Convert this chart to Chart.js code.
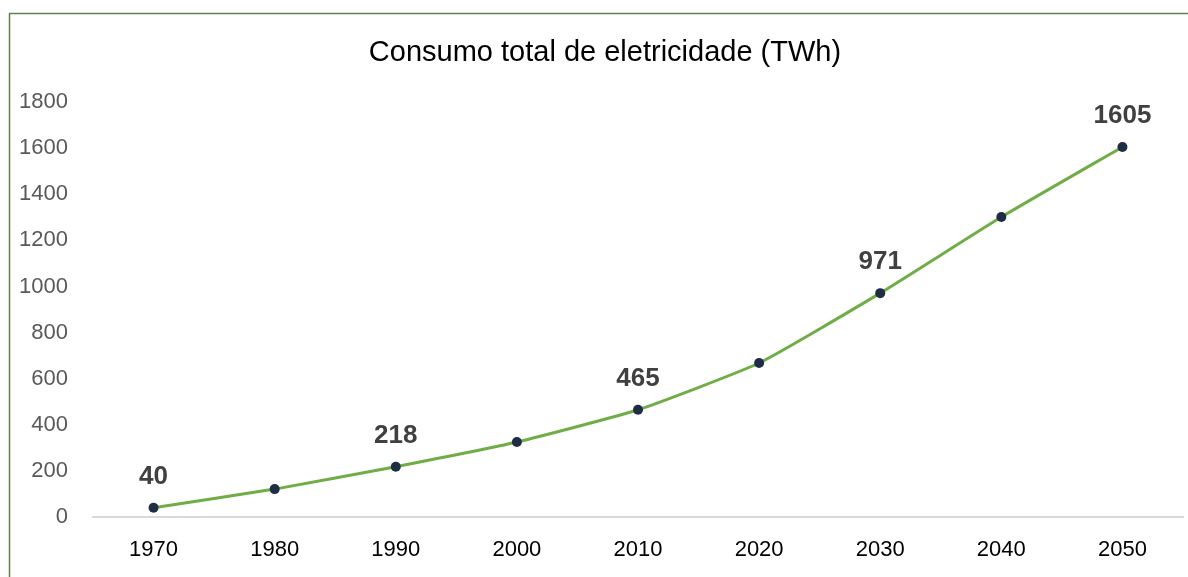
<!DOCTYPE html>
<html>
<head>
<meta charset="utf-8">
<script src="https://cdn.jsdelivr.net/npm/chart.js@4.4.1/dist/chart.umd.min.js"></script>
<style>
  html, body { margin: 0; padding: 0; background: #ffffff; }
  #wrap { position: relative; width: 1188px; height: 577px; }
  canvas { display: block; }
</style>
</head>
<body>
<div id="wrap"><canvas id="c" width="1188" height="577"></canvas></div>
<script>
const chartTitle = "Consumo total de eletricidade (TWh)";
const years = ["1970", "1980", "1990", "2000", "2010", "2020", "2030", "2040", "2050"];
const consumption = [40, 121, 218, 325, 465, 668, 971, 1301, 1605];
const labelledYears = ["1970", "1990", "2010", "2030", "2050"];
const yTickMin = 0;
const yTickMax = 1800;
const yTickStep = 200;

const FONT = '"Liberation Sans", Arial, sans-serif';

const frameTitleLabels = {
  id: 'frameTitleLabels',
  beforeDraw(chart) {
    const ctx = chart.ctx;
    ctx.save();
    ctx.strokeStyle = '#5f8350';
    ctx.lineWidth = 1.5;
    ctx.beginPath();
    ctx.moveTo(9.5, 577);
    ctx.lineTo(9.5, 13.5);
    ctx.lineTo(1188, 13.5);
    ctx.stroke();
    ctx.font = '29px ' + FONT;
    ctx.fillStyle = '#000000';
    ctx.textAlign = 'center';
    ctx.textBaseline = 'middle';
    ctx.fillText(chartTitle, 605, 53);
    ctx.restore();
  },
  afterDatasetsDraw(chart) {
    const ctx = chart.ctx;
    const meta = chart.getDatasetMeta(0);
    ctx.save();
    ctx.font = 'bold 26px ' + FONT;
    ctx.fillStyle = '#404040';
    ctx.textAlign = 'center';
    ctx.textBaseline = 'middle';
    meta.data.forEach((pt, i) => {
      if (labelledYears.includes(years[i])) {
        ctx.fillText(String(consumption[i]), pt.x, pt.y - 31);
      }
    });
    ctx.restore();
  }
};

new Chart(document.getElementById('c'), {
  type: 'line',
  data: {
    labels: years,
    datasets: [{
      data: consumption,
      borderColor: '#70ad47',
      borderWidth: 3,
      tension: 0.15,
      pointRadius: 5,
      pointHoverRadius: 5,
      pointBackgroundColor: '#1f2d44',
      pointBorderColor: '#1f2d44',
      pointBorderWidth: 0,
      fill: false
    }]
  },
  options: {
    responsive: false,
    animation: false,
    layout: { padding: { left: 0, right: 4, top: 102, bottom: 0 } },
    plugins: {
      legend: { display: false },
      tooltip: { enabled: false },
      title: { display: false }
    },
    scales: {
      x: {
        offset: true,
        grid: { display: false, drawTicks: false, offset: true },
        border: { display: true, color: '#d9d9d9', width: 2 },
        ticks: {
          color: '#000000',
          font: { family: FONT, size: 22 },
          padding: 20,
          maxRotation: 0
        },
        afterFit(scale) { scale.height = 60; }
      },
      y: {
        min: yTickMin,
        max: yTickMax,
        grid: { display: false, drawTicks: false },
        border: { display: false },
        ticks: {
          stepSize: yTickStep,
          color: '#595959',
          font: { family: FONT, size: 22 },
          padding: 25,
          callback: (v) => String(v)
        },
        afterFit(scale) { scale.width = 93; }
      }
    }
  },
  plugins: [frameTitleLabels]
});
</script>
</body>
</html>
